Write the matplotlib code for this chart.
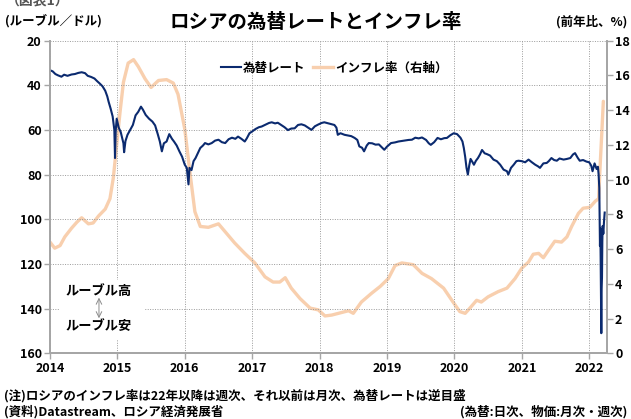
import matplotlib
matplotlib.use("Agg")
import matplotlib.pyplot as plt
from matplotlib.patches import Rectangle
from matplotlib.lines import Line2D

plt.rcParams['font.family'] = ['Noto Sans CJK JP', 'DejaVu Sans']
plt.rcParams['font.weight'] = 'bold'

# ruble per dollar (inverted axis)
rate_t = [2014.00, 2014.04, 2014.08, 2014.12, 2014.17, 2014.21, 2014.26, 2014.32, 2014.37, 2014.42,
          2014.47, 2014.52, 2014.56, 2014.61, 2014.66, 2014.70, 2014.74, 2014.78, 2014.82, 2014.85,
          2014.87, 2014.90, 2014.93, 2014.955, 2014.965, 2014.975, 2014.99, 2015.02, 2015.05, 2015.07,
          2015.09, 2015.10, 2015.12, 2015.15, 2015.19, 2015.23, 2015.27, 2015.31, 2015.35, 2015.38,
          2015.42, 2015.47, 2015.52, 2015.56, 2015.60, 2015.63, 2015.66, 2015.69, 2015.73, 2015.77,
          2015.81, 2015.84, 2015.88, 2015.92, 2015.96, 2016.00, 2016.03, 2016.055, 2016.07, 2016.10,
          2016.13, 2016.16, 2016.20, 2016.23, 2016.27, 2016.30, 2016.35, 2016.40, 2016.45, 2016.50,
          2016.55, 2016.60, 2016.65, 2016.70, 2016.75, 2016.79, 2016.84, 2016.89, 2016.92, 2016.96,
          2017.00, 2017.05, 2017.10, 2017.14, 2017.20, 2017.25, 2017.29, 2017.34, 2017.38, 2017.43,
          2017.48, 2017.53, 2017.58, 2017.63, 2017.68, 2017.73, 2017.78, 2017.83, 2017.88, 2017.93,
          2017.98, 2018.03, 2018.07, 2018.12, 2018.17, 2018.22, 2018.25, 2018.27, 2018.31, 2018.37,
          2018.42, 2018.47, 2018.52, 2018.56, 2018.59, 2018.63, 2018.66, 2018.70, 2018.73, 2018.78,
          2018.83, 2018.88, 2018.93, 2018.96, 2019.00, 2019.06, 2019.12, 2019.17, 2019.21, 2019.27,
          2019.32, 2019.37, 2019.42, 2019.47, 2019.52, 2019.58, 2019.62, 2019.65, 2019.70, 2019.75,
          2019.80, 2019.85, 2019.89, 2019.94, 2019.99, 2020.04, 2020.09, 2020.12, 2020.14, 2020.16,
          2020.18, 2020.20, 2020.22, 2020.24, 2020.27, 2020.29, 2020.32, 2020.35, 2020.38, 2020.41,
          2020.45, 2020.48, 2020.53, 2020.58, 2020.63, 2020.68, 2020.73, 2020.78, 2020.80, 2020.84,
          2020.88, 2020.92, 2020.95, 2021.00, 2021.05, 2021.10, 2021.15, 2021.20, 2021.24, 2021.27,
          2021.32, 2021.37, 2021.40, 2021.44, 2021.48, 2021.52, 2021.56, 2021.62, 2021.67, 2021.72,
          2021.76, 2021.79, 2021.83, 2021.86, 2021.91, 2021.96, 2022.00, 2022.03, 2022.05, 2022.08,
          2022.11, 2022.13, 2022.14, 2022.15, 2022.155, 2022.16, 2022.165, 2022.17, 2022.175, 2022.18,
          2022.185, 2022.19, 2022.195, 2022.20, 2022.21, 2022.22, 2022.23]
rate_v = [33.3, 33.8, 35.0, 35.6, 36.2, 35.3, 35.8, 35.2, 35.0, 34.5,
          34.2, 34.6, 35.8, 36.3, 37.0, 38.2, 39.3, 40.5, 42.5, 45.0,
          47.4, 50.5, 54.0, 60.0, 72.6, 60.5, 55.0, 59.0, 61.0, 63.6,
          66.0, 70.0, 65.0, 62.2, 60.0, 57.8, 53.5, 51.9, 49.6, 51.0,
          53.3, 55.0, 56.3, 58.0, 62.0, 65.2, 69.6, 66.0, 65.2, 61.9,
          64.0, 65.2, 67.0, 69.6, 72.0, 75.6, 77.0, 84.4, 77.0, 78.0,
          74.0, 72.6, 70.0, 68.1, 67.0, 65.9, 66.5, 65.9, 64.8, 64.4,
          65.5, 65.9, 64.2, 63.5, 64.0, 63.0, 64.0, 65.2, 63.8, 61.5,
          60.7, 59.6, 58.8, 58.5, 57.6, 56.9, 56.6, 57.1, 56.8, 57.8,
          58.8, 60.1, 59.4, 59.3, 57.8, 57.5, 58.0, 59.0, 60.0, 58.4,
          57.6, 56.9, 56.6, 57.0, 57.4, 57.8, 59.0, 62.2, 61.5, 62.2,
          62.5, 62.8, 63.6, 64.5, 67.4, 68.0, 69.6, 67.0, 65.9, 66.0,
          66.6, 66.5, 68.0, 68.9, 67.5, 65.9, 65.6, 65.2, 65.0, 64.7,
          64.5, 64.4, 63.5, 63.8, 63.4, 64.5, 66.0, 66.7, 65.5, 63.6,
          64.2, 63.7, 63.6, 62.4, 61.5, 61.9, 63.5, 65.2, 68.1, 72.0,
          77.0, 80.0, 76.0, 73.0, 74.5, 75.6, 73.8, 72.6, 71.0, 69.0,
          70.5, 70.8, 71.5, 73.3, 74.0, 75.6, 77.8, 78.5, 80.0, 77.0,
          75.6, 74.0, 73.8, 74.0, 74.5, 73.3, 74.5, 75.6, 76.3, 77.0,
          75.0, 74.8, 74.0, 72.6, 73.5, 73.8, 72.8, 73.3, 73.0, 72.6,
          71.0, 70.4, 72.5, 73.8, 73.5, 74.2, 74.5, 76.0, 78.5, 75.0,
          77.5, 76.5, 80.0, 86.0, 100.0, 112.0, 104.0, 117.0, 135.0, 151.0,
          131.0, 126.0, 110.0, 103.0, 106.5, 101.0, 97.0]

# inflation, % y/y (right axis)
infl_t = [2014.00, 2014.07, 2014.15, 2014.22, 2014.32, 2014.40, 2014.47, 2014.57, 2014.64, 2014.72,
          2014.82, 2014.89, 2014.94, 2014.99, 2015.04, 2015.09, 2015.16, 2015.24, 2015.31, 2015.41,
          2015.50, 2015.61, 2015.73, 2015.83, 2015.90, 2016.00, 2016.08, 2016.15, 2016.23, 2016.35,
          2016.50, 2016.62, 2016.74, 2016.89, 2017.04, 2017.19, 2017.31, 2017.41, 2017.49, 2017.58,
          2017.71, 2017.86, 2017.98, 2018.08, 2018.18, 2018.28, 2018.43, 2018.50, 2018.62, 2018.77,
          2018.90, 2019.02, 2019.12, 2019.22, 2019.39, 2019.52, 2019.66, 2019.84, 2019.98, 2020.08,
          2020.16, 2020.23, 2020.33, 2020.40, 2020.50, 2020.65, 2020.78, 2020.90, 2021.00, 2021.10,
          2021.17, 2021.25, 2021.32, 2021.40, 2021.49, 2021.59, 2021.67, 2021.74, 2021.84, 2021.91,
          2022.01, 2022.09, 2022.14, 2022.16, 2022.19, 2022.21]
infl_v = [6.4, 6.05, 6.2, 6.7, 7.2, 7.55, 7.8, 7.45, 7.5, 7.9,
          8.3, 8.9, 10.1, 12.0, 13.9, 15.6, 16.7, 16.9, 16.5, 15.8,
          15.3, 15.7, 15.75, 15.55, 14.9, 12.9, 10.3, 8.15, 7.3, 7.25,
          7.45, 6.9, 6.35, 5.75, 5.2, 4.4, 4.1, 4.1, 4.35, 3.75,
          3.15, 2.6, 2.5, 2.15, 2.2, 2.3, 2.45, 2.3, 2.95, 3.45,
          3.85, 4.3, 5.05, 5.2, 5.1, 4.6, 4.3, 3.75, 2.95, 2.4,
          2.3, 2.6, 3.05, 2.95, 3.25, 3.55, 3.75, 4.3, 4.9, 5.25,
          5.7, 5.75, 5.5, 5.95, 6.45, 6.4, 6.7, 7.3, 8.05, 8.35,
          8.4, 8.75, 8.9, 10.6, 12.9, 14.5]

years = list(range(2014, 2023))
rate_ticks = list(range(20, 161, 20))
infl_ticks = list(range(0, 19, 2))

navy = '#0B2A6F'
peach = '#F8CFAE'
gray = '#A6A6A6'

fig = plt.figure(figsize=(6.31, 4.19), dpi=100)
fig.subplots_adjust(left=0.0792, right=0.9615, top=0.9033, bottom=0.1568)
ax = fig.add_subplot(111)
ax2 = ax.twinx()
# rate line drawn above the inflation line
ax.set_zorder(ax2.get_zorder() + 1)
ax.patch.set_visible(False)

ax2.plot(infl_t, infl_v, color=peach, lw=2.4, solid_capstyle='round')
ax.plot(rate_t, rate_v, color=navy, lw=1.5)

ax.set_xlim(2014, 2022.26)
ax.set_ylim(160, 20)
ax2.set_ylim(0, 18)
ax.set_xticks(years)
ax.set_xticklabels([str(y) for y in years])
ax.set_yticks(rate_ticks)
ax2.set_yticks(infl_ticks)

for a in (ax, ax2):
    for s in a.spines.values():
        s.set_color(gray)
        s.set_linewidth(1.3)
    a.spines['top'].set_visible(False)
    a.tick_params(colors=gray, labelcolor='black', labelsize=9, length=4, width=1, pad=2)

ax.grid(True, which='major', color='#9A9A9A', ls=(0, (1, 1.5)), lw=0.7)
ax.set_axisbelow(True)

# white patch behind the ruble high/low note
ax.add_patch(Rectangle((0.018, 0.043), 0.15, 0.19, transform=ax.transAxes,
                       facecolor='white', edgecolor='none', zorder=1.5))
ax.text(0.088, 0.2, 'ルーブル高', transform=ax.transAxes, ha='center', va='center',
        fontsize=9.5, fontweight='bold', zorder=3)
ax.text(0.088, 0.087, 'ルーブル安', transform=ax.transAxes, ha='center', va='center',
        fontsize=9.5, fontweight='bold', zorder=3)
ax.annotate('', xy=(0.088, 0.112), xytext=(0.088, 0.178), xycoords='axes fraction',
            arrowprops=dict(arrowstyle='<->', color='#8C8C8C', lw=0.7,
                            shrinkA=0, shrinkB=0), zorder=3)

handles = [Line2D([], [], color=navy, lw=1.5), Line2D([], [], color=peach, lw=2.4)]
ax.legend(handles, ['為替レート', 'インフレ率（右軸）'], loc='center',
          bbox_to_anchor=(0.511, 0.912), ncol=2, frameon=False, fontsize=9,
          handlelength=1.6, handletextpad=0.2, columnspacing=0.6)

fig.text(0.5, 0.947, 'ロシアの為替レートとインフレ率', ha='center', va='center',
         fontsize=14, fontweight='bold')
fig.text(0.008, 0.947, '(ルーブル／ドル)', ha='left', va='center', fontsize=9, fontweight='bold')
fig.text(0.994, 0.947, '(前年比、%)', ha='right', va='center', fontsize=9, fontweight='bold')
fig.text(0.01, 0.998, '（図表1）', ha='left', va='center', fontsize=10, color='#555555')
fig.text(0.006, 0.055, '(注)ロシアのインフレ率は22年以降は週次、それ以前は月次、為替レートは逆目盛',
         ha='left', va='center', fontsize=9, fontweight='bold')
fig.text(0.006, 0.017, '(資料)Datastream、ロシア経済発展省', ha='left', va='center',
         fontsize=9, fontweight='bold')
fig.text(0.994, 0.017, '(為替:日次、物価:月次・週次)', ha='right', va='center',
         fontsize=9, fontweight='bold')

fig.savefig('out.png', dpi=100)
